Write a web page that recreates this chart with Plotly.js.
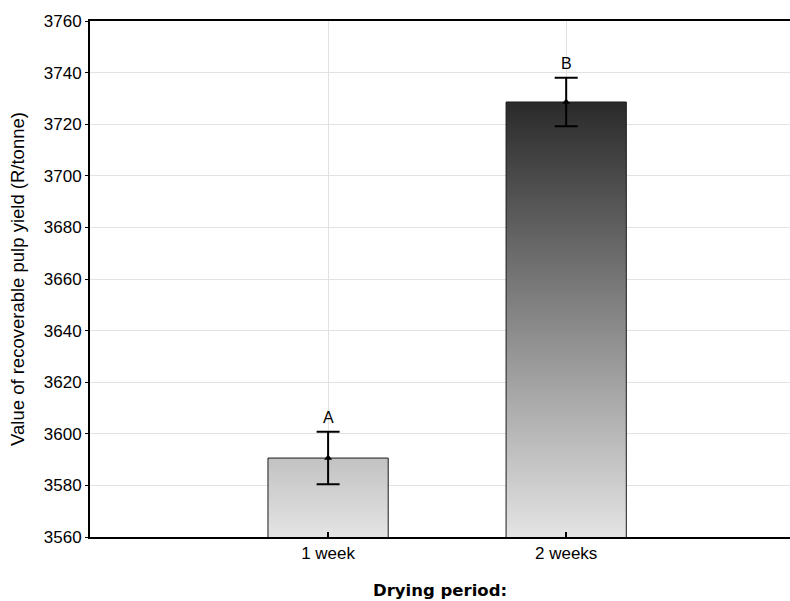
<!DOCTYPE html>
<html>
<head>
<meta charset="utf-8">
<script src="https://cdn.plot.ly/plotly-3.0.1.min.js"></script>
<style>
  html, body { margin: 0; padding: 0; background: #fff; }
  #chart { width: 790px; height: 601px; }
</style>
</head>
<body>
<div id="chart"></div>
<script>
// Drying period categories and mean value of recoverable pulp yield (R/tonne)
const periods = ['1 week', '2 weeks'];
const meanValue = [3590.6, 3728.6];
const errValue = [10.2, 9.4];
const groupLetters = ['A', 'B'];

const yTicks = [3560, 3580, 3600, 3620, 3640, 3660, 3680, 3700, 3720, 3740, 3760];

const bars = {
  type: 'bar',
  x: periods,
  y: meanValue,
  width: 0.505,
  marker: { color: '#cccccc', line: { color: '#1a1a1a', width: 1 } },
  error_y: { type: 'data', array: errValue, visible: true, color: '#000', thickness: 2, width: 11.5 },
  hoverinfo: 'skip',
  showlegend: false
};

const means = {
  type: 'scatter',
  mode: 'markers',
  x: periods,
  y: meanValue,
  marker: { symbol: 'triangle-up', size: 7, color: '#000' },
  hoverinfo: 'skip',
  showlegend: false
};

const letterNotes = periods.map((p, i) => ({
  x: p,
  y: meanValue[i] + errValue[i],
  text: groupLetters[i],
  showarrow: false,
  yanchor: 'bottom',
  yshift: 4,
  font: { family: 'Liberation Sans, Arial, sans-serif', size: 16, color: '#000' }
}));

const layout = {
  width: 790,
  height: 601,
  margin: { l: 90, r: 0, t: 21, b: 64 },
  paper_bgcolor: '#fff',
  plot_bgcolor: '#fff',
  font: { family: 'Liberation Sans, Arial, sans-serif', size: 17, color: '#000' },
  xaxis: {
    type: 'category',
    range: [-1, 1.94],
    showgrid: true,
    gridcolor: '#e2e2e2',
    gridwidth: 1,
    showline: true,
    mirror: true,
    linecolor: '#000',
    linewidth: 2,
    ticks: 'inside',
    ticklen: 5,
    tickwidth: 2,
    tickcolor: '#000',
    tickfont: { size: 17 },
    zeroline: false,
    title: {
      text: 'Drying period:',
      font: { family: 'DejaVu Sans, sans-serif', size: 16.5, weight: 'bold', color: '#000' },
      standoff: 22
    }
  },
  yaxis: {
    range: [3560, 3760],
    tickmode: 'array',
    tickvals: yTicks,
    ticktext: yTicks.map(String),
    showgrid: true,
    gridcolor: '#e2e2e2',
    gridwidth: 1,
    showline: true,
    linecolor: '#000',
    linewidth: 2,
    ticks: 'outside',
    ticklen: 3,
    tickwidth: 1,
    tickcolor: '#000',
    tickfont: { size: 17 },
    zeroline: false,
    title: {
      text: 'Value of recoverable pulp yield (R/tonne)',
      font: { size: 18.5, color: '#000' },
      standoff: 14
    }
  },
  annotations: letterNotes
};

Plotly.newPlot('chart', [bars, means], layout, { staticPlot: true, displayModeBar: false }).then(gd => {
  // Shade bars with one vertical gradient shared in plot space:
  // dark at the tallest bar's top, pale at the axis baseline.
  const ya = gd._fullLayout.yaxis;
  const yTop = ya.l2p(Math.max(...meanValue));
  const yBase = ya.l2p(ya.range[0]);
  const svgNS = 'http://www.w3.org/2000/svg';
  const defs = gd.querySelector('.main-svg defs');
  const grad = document.createElementNS(svgNS, 'linearGradient');
  grad.setAttribute('id', 'barShade');
  grad.setAttribute('gradientUnits', 'userSpaceOnUse');
  grad.setAttribute('x1', 0); grad.setAttribute('x2', 0);
  grad.setAttribute('y1', yTop); grad.setAttribute('y2', yBase);
  [['0', '#2a2a2a'], ['1', '#e4e4e4']].forEach(([off, col]) => {
    const s = document.createElementNS(svgNS, 'stop');
    s.setAttribute('offset', off);
    s.setAttribute('stop-color', col);
    grad.appendChild(s);
  });
  defs.appendChild(grad);
  gd.querySelectorAll('.barlayer .point path').forEach(p => {
    p.style.fill = 'url(#barShade)';
  });
});
</script>
</body>
</html>
